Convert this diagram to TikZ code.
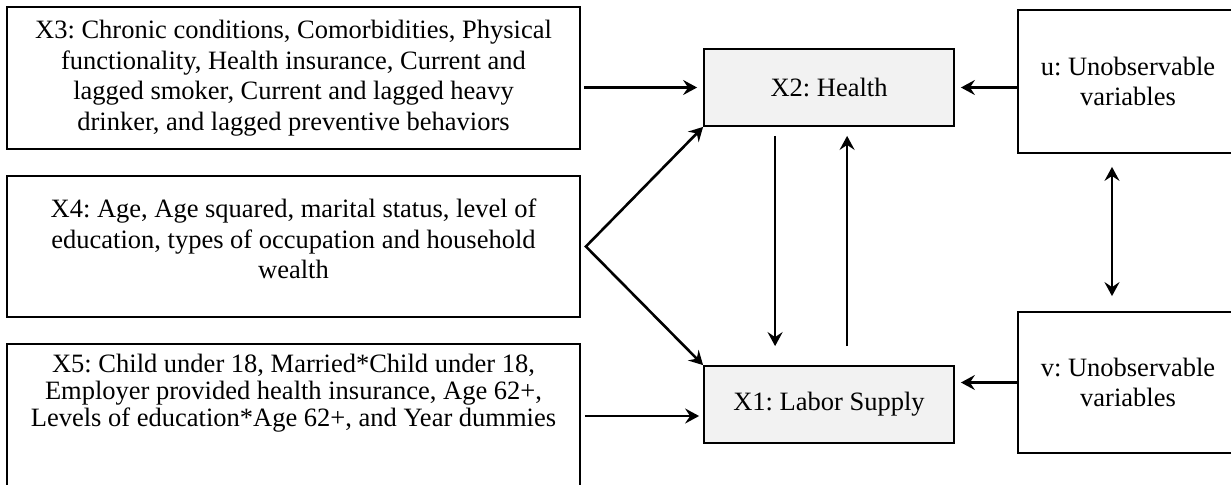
\documentclass[tikz,border=0pt]{standalone}
\usepackage{fontspec}
\setmainfont{Liberation Serif}
\usetikzlibrary{arrows.meta,positioning,calc}
\definecolor{hsgris}{RGB}{242,242,242}
\tikzset{
  hstip/.tip={Stealth[length=7pt,width=7.5pt,inset=2.5pt]},
  varbox/.style={
    rectangle, draw=black, line width=0.9pt, inner sep=0pt,
    align=center, font=\fontsize{13.25}{15.3}\selectfont
  },
  endobox/.style={
    varbox, fill=hsgris, minimum width=125pt, minimum height=38.5pt
  },
  unobsbox/.style={
    varbox, minimum width=110pt, font=\fontsize{13.25}{15}\selectfont
  },
  pathline/.style={-hstip, line width=1.3pt}
}

\begin{document}
\frenchspacing
\begin{tikzpicture}[x=0.5pt, y=-0.5pt]
  \clip (0,0) rectangle (1231,484);

  % Exogenous covariates
  \node[varbox, minimum width=286.5pt, minimum height=71pt] (xthree) at (293.5,78)
    {X3: Chronic conditions, Comorbidities, Physical\\
     functionality, Health insurance, Current and\\
     lagged smoker, Current and lagged heavy\\
     drinker, and lagged preventive behaviors};
  \node[varbox, minimum width=286.5pt, minimum height=70.5pt] (xfour) at (293.5,246.5)
    {\parbox[c][70.5pt][t]{286pt}{\vspace*{11.5pt}\centering
     X4: Age, Age squared, marital status, level of\\
     education, types of occupation and household\\
     wealth}};
  \node[varbox, minimum width=286.5pt, minimum height=76.5pt] (xfive) at (293.5,420.5)
    {\parbox[c][76.5pt][t]{286pt}{\fontsize{13.25}{13.5}\selectfont\vspace*{5pt}\centering
     X5: Child under 18, Married*Child under 18,\\
     Employer provided health insurance, Age 62+,\\
     Levels of education*Age 62+, and Year dummies}};

  % Endogenous outcomes
  \node[endobox] (xtwo) at (829,87.5) {X2: Health};
  \node[endobox] (xone) at (829,404.5) {X1: Labor Supply};

  % Unobservables
  \node[unobsbox, minimum height=71.5pt] (xu) at (1128,81.5) {u: Unobservable\\variables};
  \node[unobsbox, minimum height=70.5pt] (xv) at (1128,382.5) {v: Unobservable\\variables};

  % Arrows into health
  \draw[pathline, shorten <=1.5pt, shorten >=3pt] (xthree.east |- xtwo.west) -- (xtwo.west);
  \draw[pathline, shorten >=3pt] (xu.west |- xtwo.east) -- (xtwo.east);

  % Arrows into labor supply
  \coordinate (lsin) at ([yshift=-5.75pt]xone.west);
  \draw[pathline, shorten <=2pt, shorten >=2pt] (xfive.east |- lsin) -- (lsin);
  \draw[pathline, shorten >=3pt] (xv.west) -- (xv.west -| xone.east);

  % X4 fork
  \coordinate (fork) at ([xshift=2.5pt]xfour.east);
  \draw[hstip-hstip, line width=1.3pt] (xtwo.south west) -- (fork) -- (xone.north west);

  % Feedback between health and labor supply
  \draw[pathline] ([xshift=36pt,yshift=-4.5pt]xtwo.south west) -- ([xshift=36pt,yshift=9.5pt]xone.north west);
  \draw[pathline] ([xshift=72pt,yshift=9.5pt]xone.north west) -- ([xshift=72pt,yshift=-4.5pt]xtwo.south west);

  % Correlated unobservables
  \draw[hstip-hstip, line width=1.3pt] ([xshift=-8pt,yshift=-6.5pt]xu.south) -- ([xshift=-8pt,yshift=7.5pt]xv.north);
\end{tikzpicture}
\end{document}
